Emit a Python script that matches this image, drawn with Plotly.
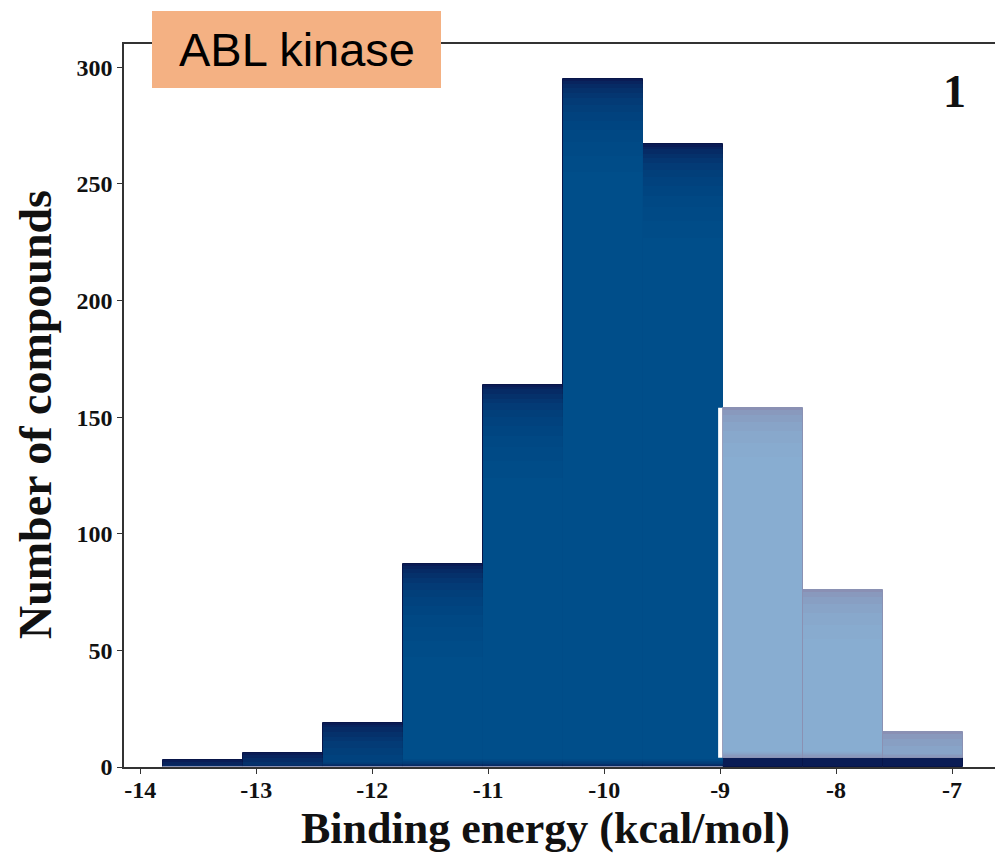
import plotly.graph_objects as go

# ---- data ----
bin_start = -13.80          # left edge of first bin (kcal/mol)
bin_width = 0.689           # bin width (kcal/mol)
dark_counts = [3, 6, 19, 87, 164, 295, 267, 4, 4, 4]     # binding energy <= -9 (dark)
light_counts = [0, 0, 0, 0, 0, 0, 0, 150, 72, 11]        # weaker binders, stacked on top
threshold = -9
x_ticks = [-14, -13, -12, -11, -10, -9, -8, -7]
y_ticks = [0, 50, 100, 150, 200, 250, 300]

# ---- style ----
dark_edge = "#0a1c55"
dark_glow = "rgba(1, 92, 156, 0.13)"
dark_glow_top = [1, 2, 4, 6, 8, 11, 14, 18, 22, 27, 33, 40]     # inset from top, per layer
light_edge = "#8a90b4"
light_glow = "rgba(135, 180, 216, 0.25)"
light_glow_top = [1, 3, 6, 10, 15, 21]

centers = [bin_start + bin_width * (i + 0.5) for i in range(len(dark_counts))]
light_base = [d if l > 0 else 0 for d, l in zip(dark_counts, light_counts)]
n_dark = sum(1 for l in light_counts if l == 0)

fig = go.Figure()
fig.add_trace(go.Bar(
    x=centers, y=dark_counts, width=bin_width,
    marker=dict(color=dark_edge, line=dict(color="#081549", width=1)),
    showlegend=False, hoverinfo="x+y"))
# soft lighter interior of the dark bars
for k, t in enumerate(dark_glow_top):
    b = 0.3 * (k + 1)
    hs = [max(h - t - b, 0) if i < n_dark else 0 for i, h in enumerate(dark_counts)]
    fig.add_trace(go.Bar(x=centers, y=hs, base=b, width=bin_width,
                         marker=dict(color=dark_glow, line=dict(width=0)),
                         showlegend=False, hoverinfo="skip"))
fig.add_trace(go.Bar(
    x=centers, y=light_counts, base=light_base, width=bin_width,
    marker=dict(color=light_edge, line=dict(color="#8a91b3", width=1)),
    showlegend=False, hoverinfo="x+y"))
for k, t in enumerate(light_glow_top):
    b = 0.5 * (k + 1)
    hs = [max(l - t - b, 0) for l in light_counts]
    bs = [lb + b for lb in light_base]
    fig.add_trace(go.Bar(x=centers, y=hs, base=bs, width=bin_width * 0.985,
                         marker=dict(color=light_glow, line=dict(width=0)),
                         showlegend=False, hoverinfo="skip"))

light_top = max(d + l for d, l in zip(dark_counts, light_counts) if l > 0)
base = dark_counts[-1]

# plot-area pixel geometry helpers
L, R, T, B, W, H = 124, 0, 44, 87, 995, 854
pw, ph = W - L - R, H - T - B
def px(x): return (x - L) / pw
def py(y): return (H - B - y) / ph

fig.update_layout(
    width=W, height=H, barmode="overlay", bargap=0,
    margin=dict(l=L, r=R, t=T, b=B),
    paper_bgcolor="white", plot_bgcolor="white",
    font=dict(family="Liberation Serif", color="#111"),
    xaxis=dict(range=[-14.14, -6.63], tickvals=x_ticks, ticktext=[str(v) for v in x_ticks],
               showline=True, linecolor="#333", linewidth=1.5, mirror=True,
               ticks="outside", ticklen=5, tickcolor="#333", showgrid=False, zeroline=False,
               ticklabelstandoff=-5,
               tickfont=dict(family="Liberation Serif", size=24, color="#111", weight="bold")),
    yaxis=dict(range=[0, 310], tickvals=y_ticks,
               showline=True, linecolor="#333", linewidth=1.5,
               ticks="outside", ticklen=5, tickcolor="#333", showgrid=False, zeroline=False,
               tickfont=dict(family="Liberation Serif", size=24, color="#111", weight="bold")),
    shapes=[
        dict(type="line", xref="x", yref="y", x0=threshold, x1=threshold, y0=base, y1=light_top,
             line=dict(color="white", width=4), layer="above"),
        dict(type="rect", xref="paper", yref="paper", x0=px(152), x1=px(441), y0=py(88), y1=py(11),
             fillcolor="#F4B183", line=dict(width=0), layer="above"),
    ],
    annotations=[
        dict(text="ABL kinase", xref="paper", yref="paper", x=px(296.5), y=py(50),
             xanchor="center", yanchor="middle", showarrow=False,
             font=dict(family="Liberation Sans", size=47, color="black")),
        dict(text="<b>1</b>", xref="paper", yref="paper", x=px(954), y=py(91),
             xanchor="center", yanchor="middle", showarrow=False,
             font=dict(family="Liberation Serif", size=46, color="#111")),
        dict(text="<b>Binding energy (kcal/mol)</b>", xref="paper", yref="paper",
             x=px(545), y=py(828), xanchor="center", yanchor="middle", showarrow=False,
             font=dict(family="Liberation Serif", size=44, color="#111")),
        dict(text="<b>Number of compounds</b>", xref="paper", yref="paper",
             x=px(36), y=py(415), xanchor="center", yanchor="middle", showarrow=False,
             textangle=-90,
             font=dict(family="Liberation Serif", size=46, color="#111")),
    ],
)

fig.write_html("out.html", config={"displayModeBar": False},
               post_script="document.body.style.margin='0px';")
